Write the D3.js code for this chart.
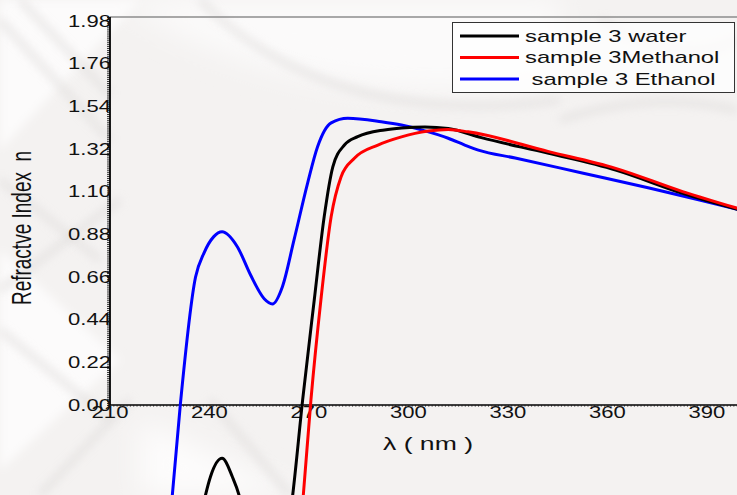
<!DOCTYPE html>
<html>
<head>
<meta charset="utf-8">
<script src="https://cdn.jsdelivr.net/npm/d3@7"></script>
<style>
  html, body { margin: 0; padding: 0; background: #f3f1f0; }
  svg { display: block; }
  text { font-family: "Liberation Sans", Arial, sans-serif; fill: #111; }
</style>
</head>
<body>
<svg id="chart" width="737" height="495"></svg>
<script>
// ---------------- data ----------------
const xTicks = [210, 240, 270, 300, 330, 360, 390];
const yTicks = [0.00, 0.22, 0.44, 0.66, 0.88, 1.10, 1.32, 1.54, 1.76, 1.98];
const seriesNames = ["sample 3 water", "sample 3Methanol", " sample 3 Ethanol"];
const seriesColors = ["#000000", "#ff0000", "#0000ff"];

const waterX = [234, 238.8, 240.3, 243.8, 246.9, 248.9, 253, 258, 262, 265.1, 268.1, 271.6, 274.6, 277.2, 280.7, 284.7, 292.8, 298, 305, 312, 322, 342.3, 362.5, 382.7, 400];
const waterN = [-0.9, -0.464, -0.370, -0.275, -0.370, -0.464, -0.85, -1.0, -0.85, -0.464, 0.026, 0.541, 0.971, 1.228, 1.340, 1.383, 1.418, 1.428, 1.433, 1.425, 1.378, 1.297, 1.211, 1.091, 1.005];

const methanolX = [263, 266, 268.3, 270.6, 273.6, 276.7, 279.7, 283.7, 290.8, 297.9, 302, 306, 312, 318, 342.3, 362.5, 382.7, 400];
const methanolN = [-1.3, -0.9, -0.464, 0.026, 0.541, 0.971, 1.177, 1.272, 1.340, 1.382, 1.400, 1.412, 1.420, 1.408, 1.306, 1.220, 1.100, 1.010];

const ethanolX = [226, 228.8, 231.2, 235.8, 238.3, 241.3, 243.8, 248.4, 252.4, 256.5, 259.0, 262.0, 265.5, 269.6, 272.6, 276.7, 281.7, 291.8, 297.9, 303.9, 312, 317, 321.1, 332.2, 352.4, 372.6, 387.8, 400];
const ethanolN = [-0.9, -0.464, 0.0, 0.660, 0.782, 0.868, 0.893, 0.816, 0.670, 0.548, 0.521, 0.610, 0.851, 1.144, 1.331, 1.454, 1.478, 1.460, 1.443, 1.418, 1.375, 1.340, 1.314, 1.273, 1.196, 1.119, 1.057, 1.005];

const xLabel = "λ ( nm )";
const yLabel = "Refractve Index  n";

// ---------------- layout ----------------
const W = 737, H = 495;
const svg = d3.select("#chart");
const SX = 1.4; // horizontal stretch of the reference lettering

// background texture
const defs = svg.append("defs");
const f = defs.append("filter").attr("id", "blur").attr("x", "-50%").attr("y", "-50%").attr("width", "200%").attr("height", "200%");
f.append("feGaussianBlur").attr("stdDeviation", 5);
const f2 = defs.append("filter").attr("id", "blur2").attr("x", "-50%").attr("y", "-50%").attr("width", "200%").attr("height", "200%");
f2.append("feGaussianBlur").attr("stdDeviation", 14);

const bg = svg.append("g");
bg.append("rect").attr("width", W).attr("height", H).attr("fill", "#f4f2f1");
bg.append("path").attr("d", "M120,0 Q300,120 560,80 L560,0 Z").attr("fill", "#fbfafa").attr("filter", "url(#blur2)");
bg.append("path").attr("d", "M0,0 L140,0 L0,150 Z").attr("fill", "#fcfbfb").attr("filter", "url(#blur)");
bg.append("path").attr("d", "M0,250 L120,360 L0,470 Z").attr("fill", "#fcfbfb").attr("filter", "url(#blur)");
bg.append("path").attr("d", "M140,420 L300,495 L140,495 Z").attr("fill", "#fdfcfc").attr("filter", "url(#blur2)");
const streaks = [
  "M0,20 L110,140", "M20,0 L110,95", "M0,290 L120,200", "M0,330 L110,420",
  "M40,495 L130,400", "M200,0 Q330,130 560,100", "M600,20 Q680,70 737,40",
  "M560,120 Q650,90 737,110", "M0,180 L100,260", "M210,400 L290,495"
];
bg.selectAll("path.streak").data(streaks).join("path")
  .attr("class", "streak").attr("d", d => d)
  .attr("fill", "none").attr("stroke", "#dedbda").attr("stroke-width", 6)
  .attr("opacity", 0.7).attr("filter", "url(#blur)");

// scales
const x = d3.scaleLinear().domain([210, 400]).range([110, 740]);
const y = d3.scaleLinear().domain([0, 2.0]).range([405, 17]);

const axes = svg.append("g");

// top frame line
axes.append("line")
  .attr("x1", x(210)).attr("x2", W).attr("y1", y(2.0)).attr("y2", y(2.0))
  .attr("stroke", "#8c8c8c").attr("stroke-width", 1.6);

// minor y ticks (dense, dotted look)
const yMinor = d3.range(0, 201).map(i => i / 100);
axes.append("g")
  .attr("transform", `translate(${x(210)},0)`)
  .call(d3.axisLeft(y).tickValues(yMinor).tickSize(3).tickFormat(""))
  .call(g => g.select(".domain").remove())
  .call(g => g.selectAll(".tick line").attr("stroke", "#222").attr("stroke-width", 0.9));

// minor x ticks
const xMinor = d3.range(210, 401, 1);
axes.append("g")
  .attr("transform", `translate(0,${y(0)})`)
  .call(d3.axisBottom(x).tickValues(xMinor).tickSize(2).tickFormat(""))
  .call(g => g.select(".domain").remove())
  .call(g => g.selectAll(".tick line").attr("stroke", "#666").attr("stroke-width", 0.8));

// axis lines
axes.append("line")
  .attr("x1", x(210)).attr("x2", x(210)).attr("y1", y(2.0)).attr("y2", y(0))
  .attr("stroke", "#000").attr("stroke-width", 1.8);
axes.append("line")
  .attr("x1", x(210)).attr("x2", W).attr("y1", y(0)).attr("y2", y(0))
  .attr("stroke", "#000").attr("stroke-width", 1.6);

// y tick labels
axes.selectAll("text.ytick").data(yTicks).join("text")
  .attr("class", "ytick")
  .attr("transform", d => `translate(${x(210) + 1},${y(d) + 5.8}) scale(${SX * 0.985},1)`)
  .attr("text-anchor", "end")
  .style("font-size", "16px")
  .text(d => d.toFixed(2));

// x tick labels
axes.selectAll("text.xtick").data(xTicks).join("text")
  .attr("class", "xtick")
  .attr("transform", d => `translate(${x(d)},${y(0) + 13.3}) scale(${SX * 0.985},1)`)
  .attr("text-anchor", "middle")
  .style("font-size", "16px")
  .text(d => d);

// axis titles
svg.append("text")
  .attr("transform", `translate(428,450) scale(${SX},1)`)
  .attr("text-anchor", "middle")
  .style("font-size", "19px")
  .text(xLabel);
svg.append("text")
  .attr("transform", `translate(31,228) scale(${SX + 0.1},1) rotate(-90)`)
  .attr("text-anchor", "middle")
  .style("font-size", "19px")
  .style("white-space", "pre")
  .text(yLabel);

// curves
const series = [
  { name: seriesNames[0], xs: waterX, ns: waterN, color: seriesColors[0] },
  { name: seriesNames[1], xs: methanolX, ns: methanolN, color: seriesColors[1] },
  { name: seriesNames[2], xs: ethanolX, ns: ethanolN, color: seriesColors[2] }
];
const line = d3.line().curve(d3.curveMonotoneX).x(d => x(d[0])).y(d => y(d[1]));
const drawOrder = [2, 0, 1];
svg.append("g").selectAll("path").data(drawOrder.map(i => series[i])).join("path")
  .attr("d", s => line(s.xs.map((v, i) => [v, s.ns[i]])))
  .attr("fill", "none")
  .attr("stroke", s => s.color)
  .attr("stroke-width", 3)
  .attr("stroke-linejoin", "round");

// legend
const lg = svg.append("g");
lg.append("rect")
  .attr("x", 452.5).attr("y", 22.5).attr("width", 282).attr("height", 70)
  .attr("fill", "#ffffff").attr("fill-opacity", 0.75)
  .attr("stroke", "#333").attr("stroke-width", 1);
const rowY = [36, 57.5, 79];
const items = lg.selectAll("g.item").data(series).join("g").attr("class", "item");
items.append("line")
  .attr("x1", 460).attr("x2", 519)
  .attr("y1", (d, i) => rowY[i]).attr("y2", (d, i) => rowY[i])
  .attr("stroke", d => d.color).attr("stroke-width", 3);
items.append("text")
  .attr("transform", (d, i) => `translate(525,${rowY[i] + 5.5}) scale(${SX},1)`)
  .style("font-size", "17px")
  .style("white-space", "pre")
  .text(d => d.name);
</script>
</body>
</html>
